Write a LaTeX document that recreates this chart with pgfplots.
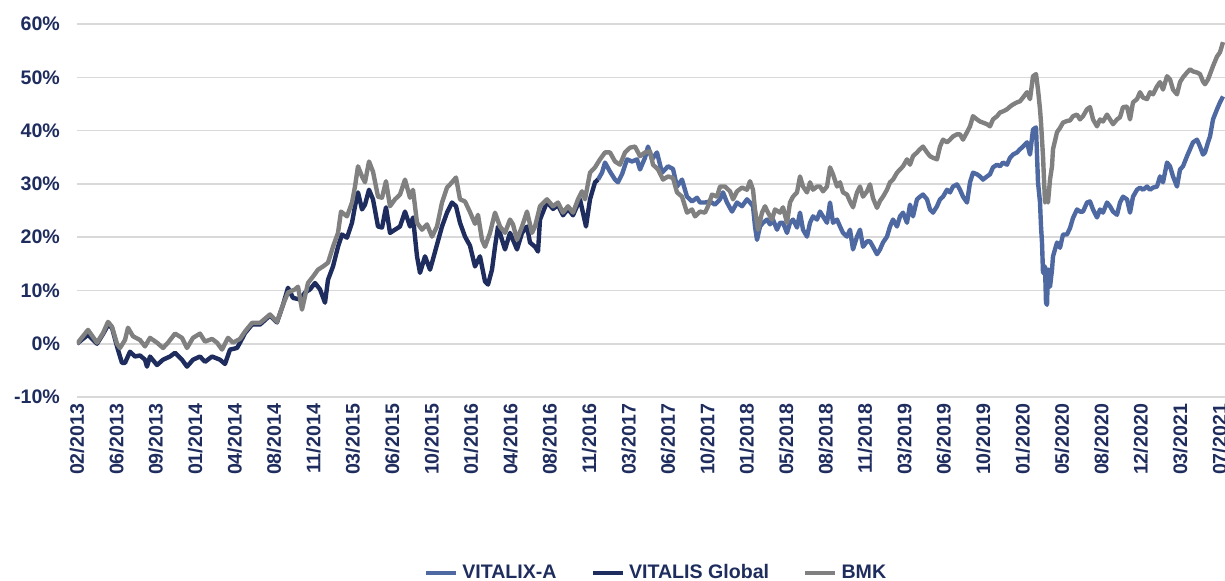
\documentclass[border=0pt]{standalone}
\usepackage{fontspec}
\setmainfont{Liberation Sans}
\usepackage{pgfplots}
\pgfplotsset{compat=1.18}
\definecolor{txt}{HTML}{1F2D5E}
\definecolor{vitalixa}{HTML}{4E69A1}
\definecolor{vitalis}{HTML}{1F2D5E}
\definecolor{bmk}{HTML}{808080}
\definecolor{gridc}{HTML}{D9D9D9}
\begin{document}
\begin{tikzpicture}
\path[use as bounding box] (-38.5pt,-91.5pt) rectangle (574pt,198.5pt);
\begin{axis}[
  at={(0,0)}, anchor=south west,
  scale only axis, width=574pt, height=186.5pt,
  xmin=0, xmax=1148, ymin=-10, ymax=60,
  ytick={-10,0,10,20,30,40,50,60},
  yticklabel={\pgfmathprintnumber{\tick}\%},
  /pgf/number format/assume math mode=true,
  ymajorgrids, grid style={draw=gridc, line width=0.8pt},
  axis line style={draw=none},
  major tick length=0pt,
  xtick={0,39.4,78.8,118.2,157.6,197,236.4,275.8,315.2,354.6,394,433.4,472.8,512.2,551.6,591,630.4,669.8,709.2,748.6,788,827.4,866.8,906.2,945.6,985,1024.4,1063.8,1103.2,1142.6},
  xticklabels={02/2013,06/2013,09/2013,01/2014,04/2014,08/2014,11/2014,03/2015,06/2015,10/2015,01/2016,04/2016,08/2016,11/2016,03/2017,06/2017,10/2017,01/2018,05/2018,08/2018,11/2018,03/2019,06/2019,10/2019,01/2020,05/2020,08/2020,12/2020,03/2021,07/2021},
  xticklabel style={rotate=90, anchor=east, font=\bfseries\fontsize{9.8}{11}\selectfont, text=txt, xshift=0pt},
  yticklabel style={font=\bfseries\fontsize{9.8}{11}\selectfont, text=txt, xshift=-5pt},
  legend style={at={(0.5,0)}, anchor=center, yshift=-88pt, xshift=3pt, draw=none, fill=none,
    font=\bfseries\fontsize{9.8}{11}\selectfont, text=txt,
    /tikz/every even column/.append style={column sep=15pt}},
  legend columns=-1,
  legend image code/.code={\draw[#1, line width=2.2pt] (0pt,0pt) -- (15pt,0pt);},
  every axis plot/.append style={line width=2.2pt, line join=round, no markers},
]
\addplot[vitalixa] coordinates {
(521,30.8)(525,32.1)(528,34.0)(533,32.3)(538,30.8)(541,30.3)(545,31.8)(550,34.6)(555,34.2)(560,34.6)
(563,32.7)(568,34.9)(571,37.0)(575,34.6)(580,35.9)(585,32.1)(591,33.3)(596,32.8)(600,29.5)(605,30.8)
(610,27.6)(615,26.7)(620,27.4)(623,26.5)(628,26.5)(633,26.7)(638,26.1)(643,27.1)(646,28.4)(650,26.5)
(655,24.8)(660,26.5)(665,25.8)(670,27.1)(673,26.5)(676,25.8)(678,22.0)(680,19.5)(683,22.0)(686,22.7)
(690,23.3)(693,22.4)(696,23.3)(700,21.4)(703,22.7)(706,22.7)(710,20.8)(713,22.7)(716,23.3)(720,21.8)
(723,24.6)(726,21.4)(730,20.1)(733,22.7)(736,23.9)(740,23.3)(743,24.8)(746,23.9)(750,22.7)(753,26.5)
(756,22.7)(760,23.3)(763,22.0)(766,20.8)(770,20.1)(773,21.4)(776,17.7)(780,20.1)(783,21.4)(786,18.2)
(790,19.2)(793,19.2)(796,18.2)(800,16.8)(803,17.7)(806,19.0)(810,20.1)(813,22.0)(816,23.3)(820,22.0)
(823,23.9)(826,24.6)(830,22.7)(833,26.1)(836,23.9)(840,27.1)(843,27.6)(846,28.0)(850,27.1)(853,25.2)
(856,24.6)(860,25.8)(863,27.1)(866,27.6)(870,28.9)(873,28.4)(876,29.5)(880,29.9)(883,28.9)(886,27.6)
(890,26.5)(893,30.3)(896,32.1)(900,31.8)(903,31.4)(906,30.8)(910,31.4)(913,31.8)(916,33.1)(920,33.6)
(923,33.3)(926,34.0)(930,33.6)(933,34.9)(936,35.5)(940,35.9)(943,36.5)(946,37.0)(950,37.8)(953,35.5)
(956,40.2)(959,40.6)(961,30.3)(963,26.5)(964,22.0)(965,19.0)(966,13.3)(968,14.5)(969,7.7)(970,7.3)
(971,13.9)(973,10.7)(975,13.9)(976,16.4)(980,19.0)(983,18.0)(986,20.5)(990,20.5)(993,21.7)(996,23.6)
(1000,25.2)(1003,24.8)(1006,24.8)(1010,26.5)(1013,26.7)(1016,25.2)(1020,23.7)(1023,25.2)(1026,24.6)(1030,26.5)
(1033,25.8)(1036,24.8)(1040,24.2)(1043,26.5)(1046,27.6)(1050,27.1)(1053,24.6)(1056,27.6)(1060,28.9)(1063,29.3)
(1066,28.9)(1070,29.5)(1073,28.9)(1076,29.3)(1080,29.5)(1083,31.4)(1086,30.3)(1090,34.0)(1093,33.3)(1096,31.4)
(1100,29.5)(1103,32.7)(1106,33.3)(1110,35.2)(1113,36.5)(1116,37.8)(1120,38.3)(1123,37.0)(1126,35.5)(1128,35.9)
(1131,37.8)(1133,38.9)(1136,42.1)(1140,44.0)(1143,45.3)(1146,46.4)
};
\addlegendentry{VITALIX-A}
\addplot[vitalis] coordinates {
(0,0)(11,1.7)(20,0.0)(26,1.8)(31,3.5)(35,3.0)(40,-0.5)(43,-2.4)(45,-3.6)(48,-3.6)
(53,-1.5)(58,-2.4)(63,-2.2)(68,-3.0)(70,-4.3)(73,-2.4)(80,-4.0)(86,-3.0)(93,-2.4)(98,-1.7)
(105,-3.0)(110,-4.3)(116,-3.0)(123,-2.4)(128,-3.4)(135,-2.4)(143,-3.0)(148,-3.8)(153,-1.1)(160,-0.8)
(163,0.2)(168,2.0)(175,3.6)(183,3.6)(193,5.3)(200,4.0)(206,7.3)(211,10.5)(216,8.6)(223,8.3)
(228,9.6)(233,10.2)(238,11.4)(243,10.2)(248,7.7)(251,12.0)(256,14.5)(261,18.2)(265,20.5)(270,19.9)
(275,22.7)(278,25.8)(281,28.4)(285,25.2)(288,26.1)(292,28.9)(296,27.1)(301,22.0)(305,21.8)(309,25.6)
(313,20.8)(318,21.4)(323,22.0)(328,24.8)(333,22.0)(336,23.7)(340,16.4)(343,13.3)(348,16.4)(353,13.9)
(355,15.2)(360,18.6)(365,22.0)(370,24.6)(375,26.5)(379,25.8)(383,22.7)(388,20.1)(393,18.4)(398,14.5)
(403,16.4)(408,11.7)(411,11.1)(415,13.9)(418,18.2)(421,22.0)(425,19.5)(428,17.7)(433,20.8)(436,19.5)
(440,17.7)(445,20.8)(450,22.0)(453,19.0)(458,18.2)(461,17.3)(463,23.3)(470,26.6)(476,25.3)(481,26.0)
(486,24.1)(491,25.3)(496,24.1)(503,27.1)(509,22.0)(513,27.1)(518,30.3)(521,30.8)
};
\addlegendentry{VITALIS Global}
\addplot[bmk] coordinates {
(0,0.0)(11,2.6)(20,0.2)(26,2.0)(31,4.1)(35,3.2)(40,0.0)(43,-0.8)(48,0.7)(51,3.0)
(56,1.4)(63,0.7)(68,-0.5)(73,1.1)(80,0.2)(86,-0.8)(91,0.2)(98,1.9)(105,1.1)(110,-0.8)
(116,1.1)(123,1.9)(128,0.4)(135,0.9)(140,0.2)(145,-1.1)(151,1.1)(156,0.2)(163,0.9)(168,2.3)
(175,3.9)(183,3.9)(193,5.5)(200,4.1)(206,7.3)(211,9.6)(218,10.2)(221,10.7)(225,6.4)(231,11.4)
(236,12.6)(241,13.9)(246,14.5)(251,15.2)(256,18.2)(261,20.8)(264,24.8)(270,23.9)(275,26.5)(278,29.5)
(281,33.3)(285,31.4)(288,30.3)(292,34.2)(296,32.3)(301,27.6)(305,27.4)(309,30.5)(313,25.8)(318,27.1)
(323,28.0)(328,30.8)(333,27.4)(336,28.9)(340,22.7)(345,21.4)(350,22.4)(355,20.1)(360,22.0)(365,26.5)
(370,29.3)(375,30.3)(379,31.2)(383,27.1)(388,26.7)(393,24.7)(398,22.5)(401,24.2)(405,19.5)(408,18.2)
(413,20.8)(418,24.6)(423,22.0)(428,20.8)(433,23.3)(436,22.4)(440,19.5)(445,22.0)(450,24.8)(455,20.8)
(458,22.0)(463,25.8)(470,27.1)(476,25.8)(481,26.5)(486,24.6)(491,25.8)(496,24.6)(501,27.1)(505,28.6)
(508,27.1)(513,32.1)(518,33.1)(523,34.6)(528,35.9)(533,35.9)(538,34.2)(543,33.6)(548,35.9)(553,36.8)
(558,37.0)(563,35.2)(568,35.9)(573,36.1)(576,33.6)(581,32.7)(586,30.8)(591,31.4)(596,31.1)(600,28.4)
(605,27.6)(610,24.6)(615,25.2)(618,23.9)(623,24.8)(628,24.6)(631,25.8)(635,28.0)(640,27.6)(643,29.5)
(648,29.5)(653,28.6)(656,27.1)(660,28.6)(665,29.3)(670,28.9)(673,30.5)(676,28.9)(678,25.2)(681,21.4)
(685,24.6)(688,25.8)(691,24.6)(695,23.3)(698,25.2)(703,24.6)(706,25.6)(710,22.7)(713,26.5)(716,27.6)
(720,28.4)(723,31.4)(726,29.5)(730,28.4)(733,30.3)(736,28.9)(740,29.5)(743,29.5)(746,28.6)(750,29.5)
(753,33.1)(756,31.8)(760,29.5)(763,30.3)(766,28.4)(770,28.0)(773,26.7)(776,25.6)(780,28.4)(783,29.5)
(786,27.6)(790,28.6)(793,29.9)(796,27.3)(800,25.5)(803,26.8)(806,27.6)(810,28.9)(813,30.3)(816,30.8)
(820,32.1)(823,32.7)(826,33.3)(830,34.6)(833,33.6)(836,35.2)(840,35.9)(843,36.5)(846,37.0)(850,35.9)
(853,35.2)(856,34.9)(860,34.6)(863,37.0)(866,38.3)(870,37.8)(873,38.3)(876,38.9)(880,39.3)(883,39.3)
(886,38.3)(890,39.7)(893,40.8)(896,42.7)(900,42.1)(903,41.7)(906,41.5)(910,41.2)(913,40.8)(916,42.1)
(920,42.7)(923,43.4)(926,43.6)(930,44.0)(933,44.5)(936,44.9)(940,45.3)(943,45.5)(946,46.2)(950,47.2)
(953,45.9)(956,50.2)(959,50.6)(961,47.7)(963,44.0)(964,41.5)(965,38.3)(966,35.2)(968,26.5)(970,28.4)
(971,26.5)(973,30.8)(975,33.3)(976,36.5)(980,39.7)(983,40.5)(986,41.5)(990,41.8)(993,41.9)(996,42.7)
(1000,43.0)(1003,42.1)(1006,42.7)(1010,44.0)(1013,44.4)(1016,42.1)(1020,40.8)(1023,42.1)(1026,41.7)(1030,43.0)
(1033,42.1)(1036,41.2)(1040,42.1)(1043,42.5)(1046,44.4)(1050,44.5)(1053,42.1)(1056,45.3)(1060,45.9)(1063,47.2)
(1066,46.2)(1070,45.9)(1073,47.2)(1076,46.8)(1080,48.3)(1083,49.1)(1086,47.7)(1090,50.2)(1093,49.6)(1096,47.7)
(1100,46.8)(1103,49.1)(1106,50.0)(1110,50.9)(1113,51.5)(1116,51.1)(1120,50.9)(1123,50.6)(1126,49.2)(1128,48.7)
(1131,49.6)(1133,50.6)(1136,52.1)(1140,53.9)(1143,54.7)(1146,56.6)
};
\addlegendentry{BMK}
\end{axis}
\end{tikzpicture}
\end{document}
